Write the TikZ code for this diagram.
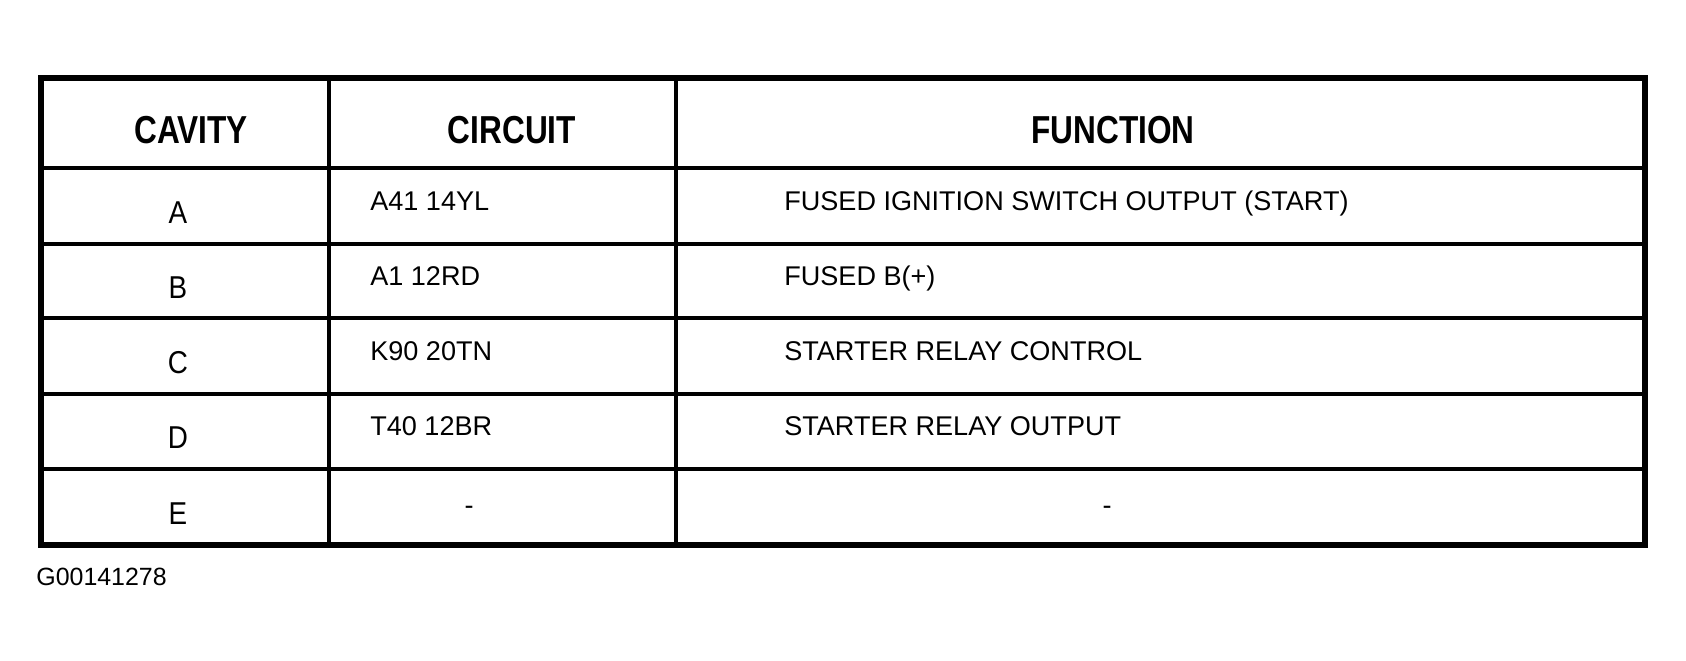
\documentclass[tikz,border=0pt]{standalone}
\usepackage{fontspec}
\setmainfont{Liberation Sans}
\newfontfamily\narrowfont[FakeStretch=0.81]{Liberation Sans}
\newfontfamily\cavityfont[FakeStretch=0.88]{Liberation Sans}
\tikzset{
	rule/.style={line width=2.8pt},
	frame/.style={line width=3.4pt},
	head/.style={anchor=base,inner sep=0pt,font=\narrowfont\bfseries\fontsize{22.2pt}{26pt}\selectfont},
	cavity/.style={anchor=base,inner sep=0pt,font=\cavityfont\fontsize{18pt}{22pt}\selectfont},
	entry/.style={anchor=base west,inner sep=0pt,font=\fontsize{15.4pt}{18pt}\selectfont},
	blank/.style={anchor=base,inner sep=0pt,font=\fontsize{15.4pt}{18pt}\selectfont},
}
\begin{document}
\begin{tikzpicture}[x=0.02cm,y=-0.02cm]
	\useasboundingbox (0,0) rectangle (1686,660);
	% table rules
	\draw[rule](41,168)--(1645,168);
	\draw[rule](41,244)--(1645,244);
	\draw[rule](41,318)--(1645,318);
	\draw[rule](41,394)--(1645,394);
	\draw[rule](41,469)--(1645,469);
	\draw[rule](329,78)--(329,545);
	\draw[rule](676,78)--(676,545);
	\draw[frame](41,78) rectangle (1645,545);
	% header
	\node (hcavity) at(191,143)[head]{CAVITY};
	\node (hcircuit) at(512,143)[head]{CIRCUIT};
	\node (hfunction) at(1113,143)[head]{FUNCTION};
	% rows
	\node (cavA) at(178,223)[cavity]{A};
	\node (cirA) at(370,210)[entry]{A41 14YL};
	\node (funA) at(784,210)[entry]{FUSED IGNITION SWITCH OUTPUT (START)};
	\node (cavB) at(178,298)[cavity]{B};
	\node (cirB) at(370,285)[entry]{A1 12RD};
	\node (funB) at(784,285)[entry]{FUSED B(+)};
	\node (cavC) at(178,373)[cavity]{C};
	\node (cirC) at(370,360)[entry]{K90 20TN};
	\node (funC) at(784,360)[entry]{STARTER RELAY CONTROL};
	\node (cavD) at(178,448)[cavity]{D};
	\node (cirD) at(370,435)[entry]{T40 12BR};
	\node (funD) at(784,435)[entry]{STARTER RELAY OUTPUT};
	\node (cavE) at(178,524)[cavity]{E};
	\node (cirE) at(469,514)[blank]{-};
	\node (funE) at(1107,514)[blank]{-};
	% figure id
	\node (figid) at(36,585)[anchor=base west,inner sep=0pt,font=\fontsize{14.2pt}{17pt}\selectfont]{G00141278};
\end{tikzpicture}
\end{document}
